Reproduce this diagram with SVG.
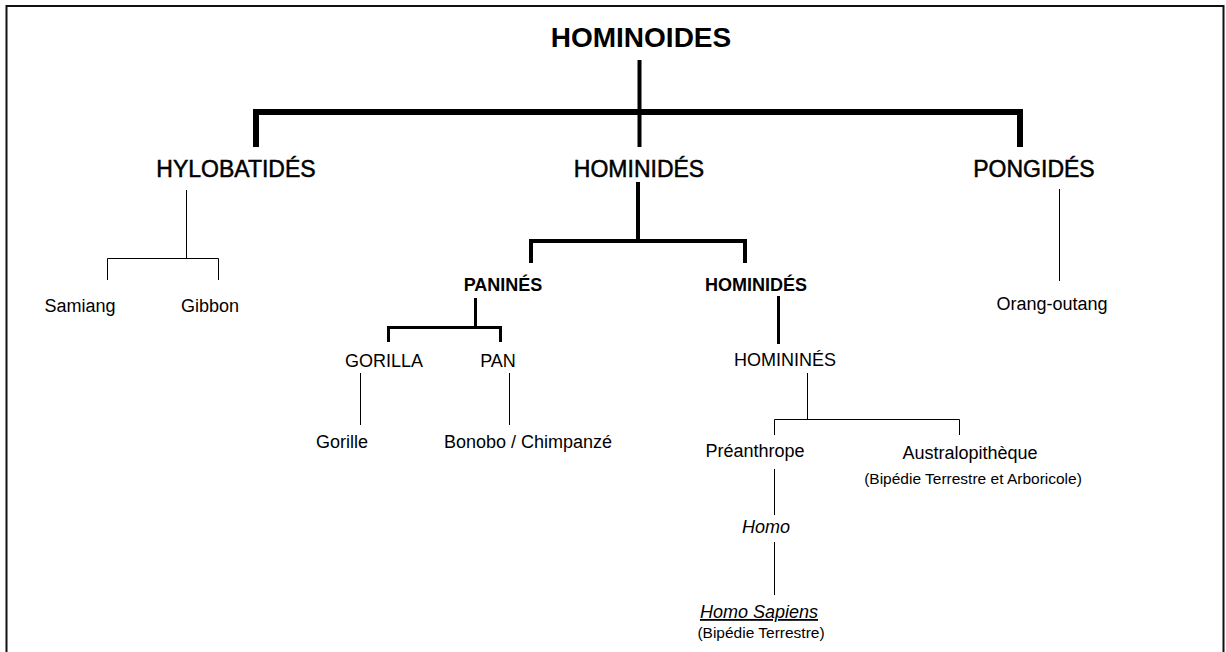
<svg xmlns="http://www.w3.org/2000/svg" width="1226" height="652" viewBox="0 0 1226 652">
<style>
text{font-family:"Liberation Sans",Arial,sans-serif;fill:#000;text-anchor:middle}
.t0{font-size:28px;font-weight:bold}
.t1{font-size:23px;stroke:#000;stroke-width:0.5}
.b{font-size:18px;font-weight:bold}
.r{font-size:18px}
.s{font-size:15.5px}
.i{font-style:italic}
.thick{stroke:#000;stroke-width:6;fill:none}
.med{stroke:#000;stroke-width:4;fill:none}
.m3{stroke:#000;stroke-width:3;fill:none}
.thin{stroke:#000;stroke-width:1;fill:none}
</style>
<rect x="0" y="0" width="1226" height="652" fill="#fff"/>
<rect x="6.5" y="6" width="1217" height="700" fill="none" stroke="#111" stroke-width="2"/>
<g id="connectors">
<path class="med" d="M639.5 60 V147"/>
<path class="thick" d="M256 147 V112 H1020 V147"/>
<path class="med" d="M638 182 V241"/>
<path class="med" d="M531 263 V241 H745 V263"/>
<path class="thin" d="M186.5 190 V258.5 M107.5 280 V258.5 H218.5 V280"/>
<path class="m3" d="M475.5 298 V327.5 M388.5 342 V327.5 H500.5 V342"/>
<path class="thin" d="M360.5 373 V425 M509.5 373 V425"/>
<path class="m3" d="M778.5 296 V344"/>
<path class="thin" d="M807.5 373 V419.5 M774.5 435 V419.5 H959.5 V435"/>
<path class="thin" d="M1059.5 189 V281"/>
<path class="thin" d="M774.5 469 V515 M774.5 542 V595"/>
</g>
<g id="hominoides"><text class="t0" x="641" y="47">HOMINOIDES</text></g>
<g id="hylobatides"><text class="t1" x="236" y="177">HYLOBATIDÉS</text></g>
<g id="hominides1"><text class="t1" x="639" y="177">HOMINIDÉS</text></g>
<g id="pongides"><text class="t1" x="1034" y="177">PONGIDÉS</text></g>
<g id="samiang"><text class="r" x="80" y="312">Samiang</text></g>
<g id="gibbon"><text class="r" x="210" y="312">Gibbon</text></g>
<g id="panines"><text class="b" x="503" y="291">PANINÉS</text></g>
<g id="hominides2"><text class="b" x="756" y="291">HOMINIDÉS</text></g>
<g id="orang"><text class="r" x="1052" y="310">Orang-outang</text></g>
<g id="gorilla"><text class="r" x="384" y="367">GORILLA</text></g>
<g id="pan"><text class="r" x="498" y="367">PAN</text></g>
<g id="hominines"><text class="r" x="785" y="366">HOMININÉS</text></g>
<g id="gorille"><text class="r" x="342" y="448">Gorille</text></g>
<g id="bonobo"><text class="r" x="528" y="448">Bonobo / Chimpanzé</text></g>
<g id="preanthrope"><text class="r" x="755" y="457">Préanthrope</text></g>
<g id="australo"><text class="r" x="970" y="459">Australopithèque</text><text class="s" x="973" y="484">(Bipédie Terrestre et Arboricole)</text></g>
<g id="homo"><text class="r i" x="766" y="533">Homo</text></g>
<g id="sapiens"><text class="r i" x="759" y="618" text-decoration="underline">Homo Sapiens</text><text class="s" x="761" y="638">(Bipédie Terrestre)</text></g>
</svg>
